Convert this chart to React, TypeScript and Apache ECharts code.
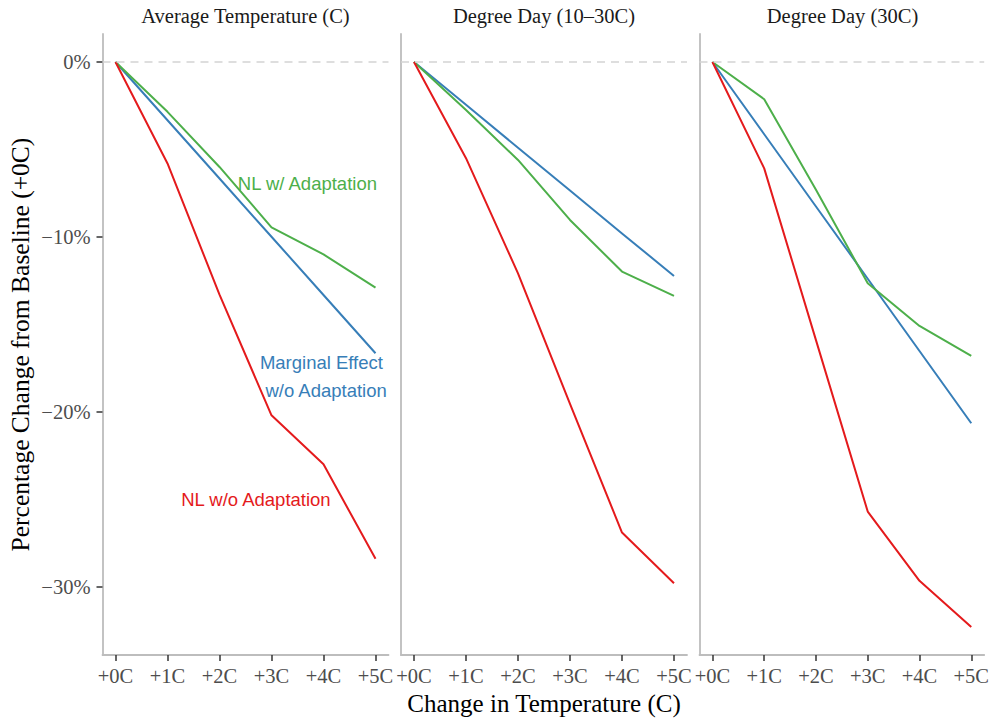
import React, { useEffect, useRef } from "react";
import * as echarts from "echarts";

const panelTitles = ["Average Temperature (C)", "Degree Day (10–30C)", "Degree Day (30C)"];
const xValues = [0, 1, 2, 3, 4, 5];
const xTickLabels = ["+0C", "+1C", "+2C", "+3C", "+4C", "+5C"];
const yTicks = [-30, -20, -10, 0];

// NL w/ Adaptation (green)
const nlWithAdaptation = [
  [0, -2.85, -6.0, -9.45, -11.0, -12.9],
  [0, -2.75, -5.6, -9.03, -11.98, -13.37],
  [0, -2.13, -7.3, -12.65, -15.09, -16.8],
];
// Marginal Effect w/o Adaptation (blue)
const marginalEffect = [
  [0, -3.33, -6.66, -9.99, -13.32, -16.65],
  [0, -2.45, -4.9, -7.35, -9.8, -12.23],
  [0, -4.13, -8.26, -12.39, -16.52, -20.65],
];
// NL w/o Adaptation (red)
const nlWithoutAdaptation = [
  [0, -5.8, -13.3, -20.2, -23.0, -28.4],
  [0, -5.5, -12.08, -19.55, -26.9, -29.8],
  [0, -6.08, -15.9, -25.7, -29.66, -32.3],
];

const annotations = [
  { text: "NL w/ Adaptation", x: 3.69, y: -6.97, color: "#4DAF4A" },
  { text: "Marginal Effect", x: 3.96, y: -17.2, color: "#377EB8" },
  { text: "w/o Adaptation", x: 4.05, y: -18.8, color: "#377EB8" },
  { text: "NL w/o Adaptation", x: 2.7, y: -25.03, color: "#E41A1C" },
];

const W = 992;
const H = 719;
const gridLefts = [102.5, 401, 699.5];
const gridWidth = 286;
const gridTop = 34;
const gridHeight = 621;
const yMin = -33.9;
const yMax = 1.6;

const SERIF = "'Liberation Serif', 'Times New Roman', serif";
const SANS = "'Liberation Sans', Arial, sans-serif";

export default function App() {
  const ref = useRef<HTMLDivElement>(null);

  useEffect(() => {
    if (!ref.current) return;
    const chart = echarts.init(ref.current, null, { renderer: "svg", width: W, height: H });

    const grids: any[] = [];
    const xAxes: any[] = [];
    const yAxes: any[] = [];
    const series: any[] = [];

    const axisLineStyle = { color: "#bdbdbd", width: 1.8 };

    for (let p = 0; p < 3; p++) {
      grids.push({ left: gridLefts[p], top: gridTop, width: gridWidth, height: gridHeight, containLabel: false });
      xAxes.push({
        type: "value",
        gridIndex: p,
        min: -0.25,
        max: 5.25,
        axisLine: { show: true, onZero: false, lineStyle: axisLineStyle },
        axisTick: { show: true, length: 6, customValues: xValues, lineStyle: { color: "#333333", width: 1.5 } },
        axisLabel: {
          show: true,
          customValues: xValues,
          margin: 10,
          formatter: (v: number) => xTickLabels[Math.round(v)] ?? "",
          color: "#4d4d4d",
          fontFamily: SERIF,
          fontSize: 20.5,
        },
        splitLine: { show: false },
      });
      yAxes.push({
        type: "value",
        gridIndex: p,
        min: yMin,
        max: yMax,
        axisLine: { show: true, onZero: false, lineStyle: axisLineStyle },
        axisTick: { show: p === 0, length: 6, customValues: yTicks, lineStyle: { color: "#333333", width: 1.5 } },
        axisLabel: {
          show: p === 0,
          customValues: yTicks,
          margin: 12,
          formatter: (v: number) => (v < 0 ? "\u2212" + Math.abs(v) + "%" : v + "%"),
          color: "#4d4d4d",
          fontFamily: SERIF,
          fontSize: 20.5,
        },
        splitLine: { show: false },
      });

      // zero reference line
      series.push({
        type: "line",
        xAxisIndex: p,
        yAxisIndex: p,
        data: [],
        z: 1,
        silent: true,
        markLine: {
          silent: true,
          symbol: "none",
          label: { show: false },
          lineStyle: { color: "#d4d4d4", width: 1.7, type: [8, 6] },
          data: [{ yAxis: 0 }],
        },
      });

      const mk = (name: string, vals: number[], color: string) => ({
        type: "line",
        name,
        xAxisIndex: p,
        yAxisIndex: p,
        data: xValues.map((x, i) => [x, vals[i]]),
        symbol: "none",
        lineStyle: { color, width: 2 },
        itemStyle: { color },
        z: 3,
      });
      series.push(mk("Marginal Effect w/o Adaptation", marginalEffect[p], "#377EB8"));
      series.push(mk("NL w/ Adaptation", nlWithAdaptation[p], "#4DAF4A"));
      series.push(mk("NL w/o Adaptation", nlWithoutAdaptation[p], "#E41A1C"));
    }

    const staticGraphics: any[] = [
      ...panelTitles.map((t, p) => ({
        type: "text",
        x: gridLefts[p] + gridWidth / 2,
        y: 16,
        style: {
          text: t,
          align: "center",
          verticalAlign: "middle",
          fill: "#1a1a1a",
          font: `20.5px ${SERIF}`,
        },
      })),
      {
        type: "text",
        x: (gridLefts[0] + gridLefts[2] + gridWidth) / 2,
        y: 703,
        style: {
          text: "Change in Temperature (C)",
          align: "center",
          verticalAlign: "middle",
          fill: "#000000",
          font: `25px ${SERIF}`,
        },
      },
      {
        type: "text",
        x: 20,
        y: gridTop + gridHeight / 2,
        rotation: Math.PI / 2,
        style: {
          text: "Percentage Change from Baseline (+0C)",
          align: "center",
          verticalAlign: "middle",
          fill: "#000000",
          font: `25.5px ${SERIF}`,
        },
      },
    ];

    chart.setOption({
      animation: false,
      backgroundColor: "#ffffff",
      grid: grids,
      xAxis: xAxes,
      yAxis: yAxes,
      series,
      graphic: staticGraphics,
    });

    const annGraphics = annotations.map((a) => {
      const pt = chart.convertToPixel({ gridIndex: 0 } as any, [a.x, a.y]) as number[];
      return {
        type: "text",
        x: pt[0],
        y: pt[1],
        style: {
          text: a.text,
          align: "center",
          verticalAlign: "middle",
          fill: a.color,
          font: `18.5px ${SANS}`,
        },
        z: 10,
      };
    });
    chart.setOption({ graphic: [...staticGraphics, ...annGraphics] });

    return () => chart.dispose();
  }, []);

  return (
    <div
      ref={ref}
      style={{ position: "fixed", left: 0, top: 0, width: W, height: H, background: "#ffffff" }}
    />
  );
}
